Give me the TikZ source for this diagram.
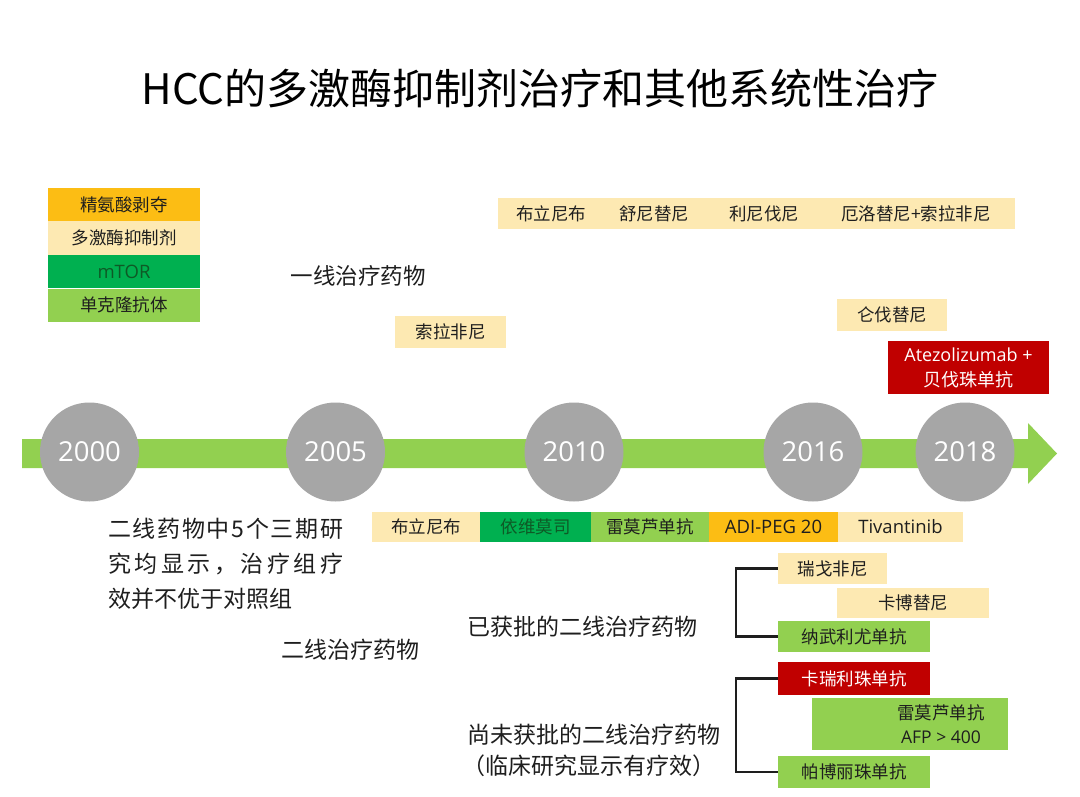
\documentclass[tikz,border=0pt]{standalone}
\usepackage{fontspec}
\setmainfont{Open Sans}
\newfontfamily\cjk{Noto Sans CJK SC}
\definecolor{cream}{HTML}{FDE9B2}
\definecolor{orng}{HTML}{FCBD14}
\definecolor{dgreen}{HTML}{00B050}
\definecolor{lgreen}{HTML}{92D050}
\definecolor{dred}{HTML}{C00000}
\definecolor{cgray}{HTML}{A6A6A6}
\definecolor{txt}{HTML}{1E1E1E}
\definecolor{gtxt}{HTML}{0E5A26}
\tikzset{
  box/.style={rectangle, inner sep=0pt, text=txt, font=\cjk\fontsize{17.5}{21}\selectfont},
  lat/.style={font=\fontsize{18.5}{22}\selectfont},
  yearc/.style={circle, fill=cgray, minimum size=99pt, inner sep=0pt, text=white, font=\fontsize{27.5}{32}\selectfont},
  big/.style={inner sep=0pt, text=txt, font=\cjk\fontsize{23}{28}\selectfont},
  bracket/.style={draw=txt, line width=2.2pt},
}
\begin{document}
\begin{tikzpicture}[x=1pt,y=-1pt]
\useasboundingbox (0,0) rectangle (1080,797);
\fill[white] (0,0) rectangle (1080,797);

% title
\node[inner sep=0pt, text=black, font=\cjk\fontsize{42}{48}\selectfont] (title) at (540,88) {HCC的多激酶抑制剂治疗和其他系统性治疗};

% legend
\node[box, fill=orng, minimum width=152pt, minimum height=33pt] (lg1) at (124,204.5) {精氨酸剥夺};
\node[box, fill=cream, minimum width=152pt, minimum height=34pt] (lg2) at (124,238) {多激酶抑制剂};
\node[box, fill=dgreen, minimum width=152pt, minimum height=33pt, lat, text=gtxt] (lg3) at (124,271.5) {mTOR};
\node[box, fill=lgreen, minimum width=152pt, minimum height=33pt] (lg4) at (124,305) {单克隆抗体};

% first line drugs
\node[box, fill=cream, minimum width=517pt, minimum height=31pt] (top) at (756.5,214) {};
\node[box] (t1) at (551,214) {布立尼布};
\node[box] (t2) at (654,214) {舒尼替尼};
\node[box] (t3) at (764,214) {利尼伐尼};
\node[box] (t4) at (916,214) {厄洛替尼+索拉非尼};
\node[big, font=\cjk\fontsize{22.5}{26}\selectfont] (l1) at (358,276) {一线治疗药物};
\node[box, fill=cream, minimum width=111pt, minimum height=32pt] (sora) at (450.5,332) {索拉非尼};
\node[box, fill=cream, minimum width=110pt, minimum height=32pt] (lenv) at (892,315) {仑伐替尼};
\node[box, fill=dred, minimum width=161pt, minimum height=53pt, text=white, align=center, font=\cjk\fontsize{18}{25}\selectfont] (atez) at (968.5,367.5) {{\fontspec{Open Sans}Atezolizumab +}\\贝伐珠单抗};

% timeline
\fill[lgreen] (22,439) -- (1028,439) -- (1028,423) -- (1057,453.5) -- (1028,484) -- (1028,468) -- (22,468) -- cycle;
\node[yearc] (y2000) at (89.5,452) {2000};
\node[yearc] (y2005) at (335.5,452) {2005};
\node[yearc] (y2010) at (574,452) {2010};
\node[yearc] (y2016) at (813,452) {2016};
\node[yearc] (y2018) at (965,452) {2018};

% second line row
\node[box, fill=cream, minimum width=108pt, minimum height=30pt] (b1) at (426,527) {布立尼布};
\node[box, fill=dgreen, minimum width=111pt, minimum height=30pt, text=gtxt] (b2) at (535.5,527) {依维莫司};
\node[box, fill=lgreen, minimum width=118pt, minimum height=30pt] (b3) at (650,527) {雷莫芦单抗};
\node[box, fill=orng, minimum width=129pt, minimum height=30pt, lat] (b4) at (773.5,527) {ADI-PEG 20};
\node[box, fill=cream, minimum width=125pt, minimum height=30pt, lat] (b5) at (900.5,527) {Tivantinib};

% left text
\node[big, anchor=west] (p1) at (108,529) {\makebox[235pt][l]{二\hfill 线\hfill 药\hfill 物\hfill 中\hfill 5\hfill 个\hfill 三\hfill 期\hfill 研}};
\node[big, anchor=west] (p2) at (108,564) {\makebox[235pt][l]{究\hfill 均\hfill 显\hfill 示\hfill ，\hfill 治\hfill 疗\hfill 组\hfill 疗}};
\node[big, anchor=west] (p3) at (108,599) {效并不优于对照组};
\node[big] (l2) at (350,650) {二线治疗药物};
\node[big, anchor=west] (ap) at (467,627) {已获批的二线治疗药物};
\node[big, anchor=west] (na1) at (467,735) {尚未获批的二线治疗药物};
\node[big, anchor=west] (na2) at (462,766) {（临床研究显示有疗效）};

% approved
\node[box, fill=cream, minimum width=109pt, minimum height=31pt] (r1) at (832.5,568.5) {瑞戈非尼};
\node[box, fill=cream, minimum width=152pt, minimum height=30pt] (r2) at (913,603) {卡博替尼};
\node[box, fill=lgreen, minimum width=152pt, minimum height=31pt] (r3) at (854,636.5) {纳武利尤单抗};
% not yet approved
\node[box, fill=dred, minimum width=152pt, minimum height=33pt, text=white] (c1) at (854,678.5) {卡瑞利珠单抗};
\node[box, fill=lgreen, minimum width=196pt, minimum height=52pt] (c2) at (910,724) {};
\node[box, align=center, font=\cjk\fontsize{17.5}{24}\selectfont] (c2t) at (941,724) {雷莫芦单抗\\{\fontspec{Open Sans}AFP > 400}};
\node[box, fill=lgreen, minimum width=152pt, minimum height=32pt] (c3) at (854,772) {帕博丽珠单抗};

\draw[bracket] (r1.west) -- ++(-42,0) |- (r3.west);
\draw[bracket] (c1.west) -- ++(-42,0) |- (c3.west);
\end{tikzpicture}
\end{document}
